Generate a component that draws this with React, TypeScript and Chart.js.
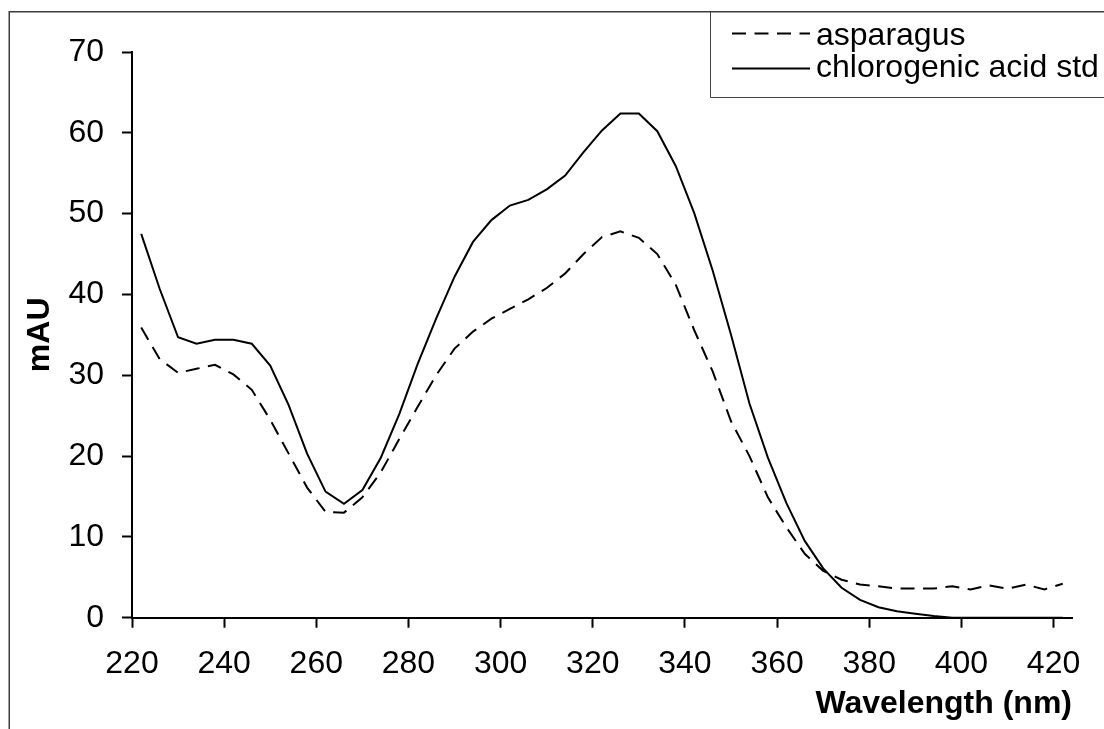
import React, { useEffect, useRef } from "react";
import { Chart, registerables } from "chart.js";

Chart.register(...registerables);

// Wavelengths (nm) of the sampled points
const wavelengths = [
  222, 226, 230, 234, 238, 242, 246, 250, 254, 258, 262, 266, 270, 274, 278, 282, 286,
  290, 294, 298, 302, 306, 310, 314, 318, 322, 326, 330, 334, 338, 342, 346, 350, 354,
  358, 362, 366, 370, 374, 378, 382, 386, 390, 394, 398, 402, 406, 410, 414, 418, 422,
];

// asparagus (dashed)
const asparagus = [
  35.9, 32.0, 30.3, 30.8, 31.3, 30.1, 28.2, 24.5, 20.3, 16.1, 13.1, 13.0, 14.9, 18.0, 22.1, 26.1, 30.0,
  33.3, 35.4, 37.0, 38.2, 39.4, 40.8, 42.6, 45.0, 47.1, 47.8, 47.0, 45.0, 41.2, 35.6, 30.5, 24.3, 20.0,
  14.9, 11.2, 7.9, 5.8, 4.7, 4.1, 3.9, 3.6, 3.6, 3.6, 3.9, 3.5, 4.0, 3.6, 4.1, 3.5, 4.2,
];

// chlorogenic acid std (solid)
const chlorogenicStd = [
  47.5, 40.7, 34.7, 33.9, 34.4, 34.4, 33.9, 31.2, 26.3, 20.3, 15.6, 14.1, 15.8, 19.8, 25.2, 31.4, 37.0,
  42.2, 46.5, 49.2, 51.0, 51.7, 53.0, 54.7, 57.6, 60.3, 62.4, 62.4, 60.2, 55.9, 50.1, 43.0, 35.0, 26.5,
  19.8, 14.2, 9.5, 6.1, 3.7, 2.2, 1.3, 0.8, 0.5, 0.2, 0, 0, 0, 0, 0, 0, 0,
];

const seriesLabels = ["asparagus", "chlorogenic acid std"];
const xTickValues = [220, 240, 260, 280, 300, 320, 340, 360, 380, 400, 420];
const xMin = 220;
const xMax = 424;
const yMin = 0;
const yMax = 70;
const yStep = 10;
const xTitle = "Wavelength (nm)";
const yTitle = "mAU";

const FONT = "'Liberation Sans', Arial, Helvetica, sans-serif";

const framePlugin = {
  id: "frameAndLegend",
  afterDraw(chart: any) {
    const ctx = chart.ctx as CanvasRenderingContext2D;
    ctx.save();
    // outer chart frame (cropped)
    ctx.strokeStyle = "#3c3c3c";
    ctx.lineWidth = 1.5;
    ctx.setLineDash([]);
    ctx.beginPath();
    ctx.moveTo(9.25, 729);
    ctx.lineTo(9.25, 11.75);
    ctx.lineTo(1104, 11.75);
    ctx.stroke();
    // legend box
    ctx.lineWidth = 1;
    ctx.strokeStyle = "#444";
    ctx.beginPath();
    ctx.moveTo(710.5, 11.5);
    ctx.lineTo(710.5, 97.5);
    ctx.lineTo(1104, 97.5);
    ctx.stroke();
    // legend entries
    const lineY = [33.5, 68.5];
    const baseY = [44.5, 77];
    chart.data.datasets.forEach((ds: any, i: number) => {
      ctx.strokeStyle = ds.borderColor;
      ctx.lineWidth = ds.borderWidth;
      ctx.setLineDash(ds.borderDash || []);
      ctx.beginPath();
      ctx.moveTo(732, lineY[i]);
      ctx.lineTo(810, lineY[i]);
      ctx.stroke();
      ctx.setLineDash([]);
      ctx.fillStyle = "#000";
      ctx.font = `32px ${FONT}`;
      ctx.textAlign = "left";
      ctx.textBaseline = "alphabetic";
      ctx.fillText(ds.label, 816, baseY[i]);
    });
    ctx.restore();
  },
};

export default function App() {
  const canvasRef = useRef<HTMLCanvasElement | null>(null);

  useEffect(() => {
    const canvas = canvasRef.current;
    if (!canvas) return;
    const chart = new Chart(canvas, {
      type: "line",
      data: {
        datasets: [
          {
            label: seriesLabels[0],
            data: wavelengths.map((w, i) => ({ x: w, y: asparagus[i] })),
            borderColor: "#000",
            borderWidth: 2,
            borderDash: [14, 8.5],
            pointRadius: 0,
            fill: false,
            tension: 0,
          },
          {
            label: seriesLabels[1],
            data: wavelengths.map((w, i) => ({ x: w, y: chlorogenicStd[i] })),
            borderColor: "#000",
            borderWidth: 2,
            pointRadius: 0,
            fill: false,
            tension: 0,
          },
        ],
      },
      options: {
        responsive: false,
        animation: false,
        devicePixelRatio: 1,
        layout: { padding: { left: 0, top: 52, right: 32, bottom: 0 } },
        plugins: { legend: { display: false }, tooltip: { enabled: false } },
        scales: {
          x: {
            type: "linear",
            min: xMin,
            max: xMax,
            afterBuildTicks: (s: any) => {
              s.ticks = xTickValues.map((v) => ({ value: v }));
            },
            afterFit: (s: any) => {
              s.height = 111.3;
            },
            grid: {
              drawOnChartArea: false,
              drawTicks: true,
              tickLength: 10,
              tickWidth: 2,
              tickColor: "#000",
            },
            border: { display: true, color: "#000", width: 2 },
            ticks: {
              color: "#000",
              font: { family: FONT, size: 32 },
              padding: 17,
              maxRotation: 0,
              autoSkip: false,
            },
            title: {
              display: true,
              text: xTitle,
              align: "end",
              color: "#000",
              font: { family: FONT, size: 32, weight: "bold" },
              padding: { top: 0, bottom: 6 },
            },
          },
          y: {
            type: "linear",
            min: yMin,
            max: yMax,
            afterFit: (s: any) => {
              s.width = 132;
            },
            grid: {
              drawOnChartArea: false,
              drawTicks: true,
              tickLength: 10,
              tickWidth: 2,
              tickColor: "#000",
            },
            border: { display: true, color: "#000", width: 2 },
            ticks: {
              stepSize: yStep,
              color: "#000",
              font: { family: FONT, size: 32 },
              padding: 18,
            },
            title: {
              display: true,
              text: yTitle,
              color: "#000",
              font: { family: FONT, size: 32, weight: "bold" },
              padding: { top: 21, bottom: 0 },
            },
          },
        },
      } as any,
      plugins: [framePlugin],
    });
    return () => chart.destroy();
  }, []);

  return (
    <canvas
      ref={canvasRef}
      width={1104}
      height={729}
      style={{ position: "fixed", left: 0, top: 0, width: 1104, height: 729, display: "block", background: "#fff" }}
    />
  );
}
